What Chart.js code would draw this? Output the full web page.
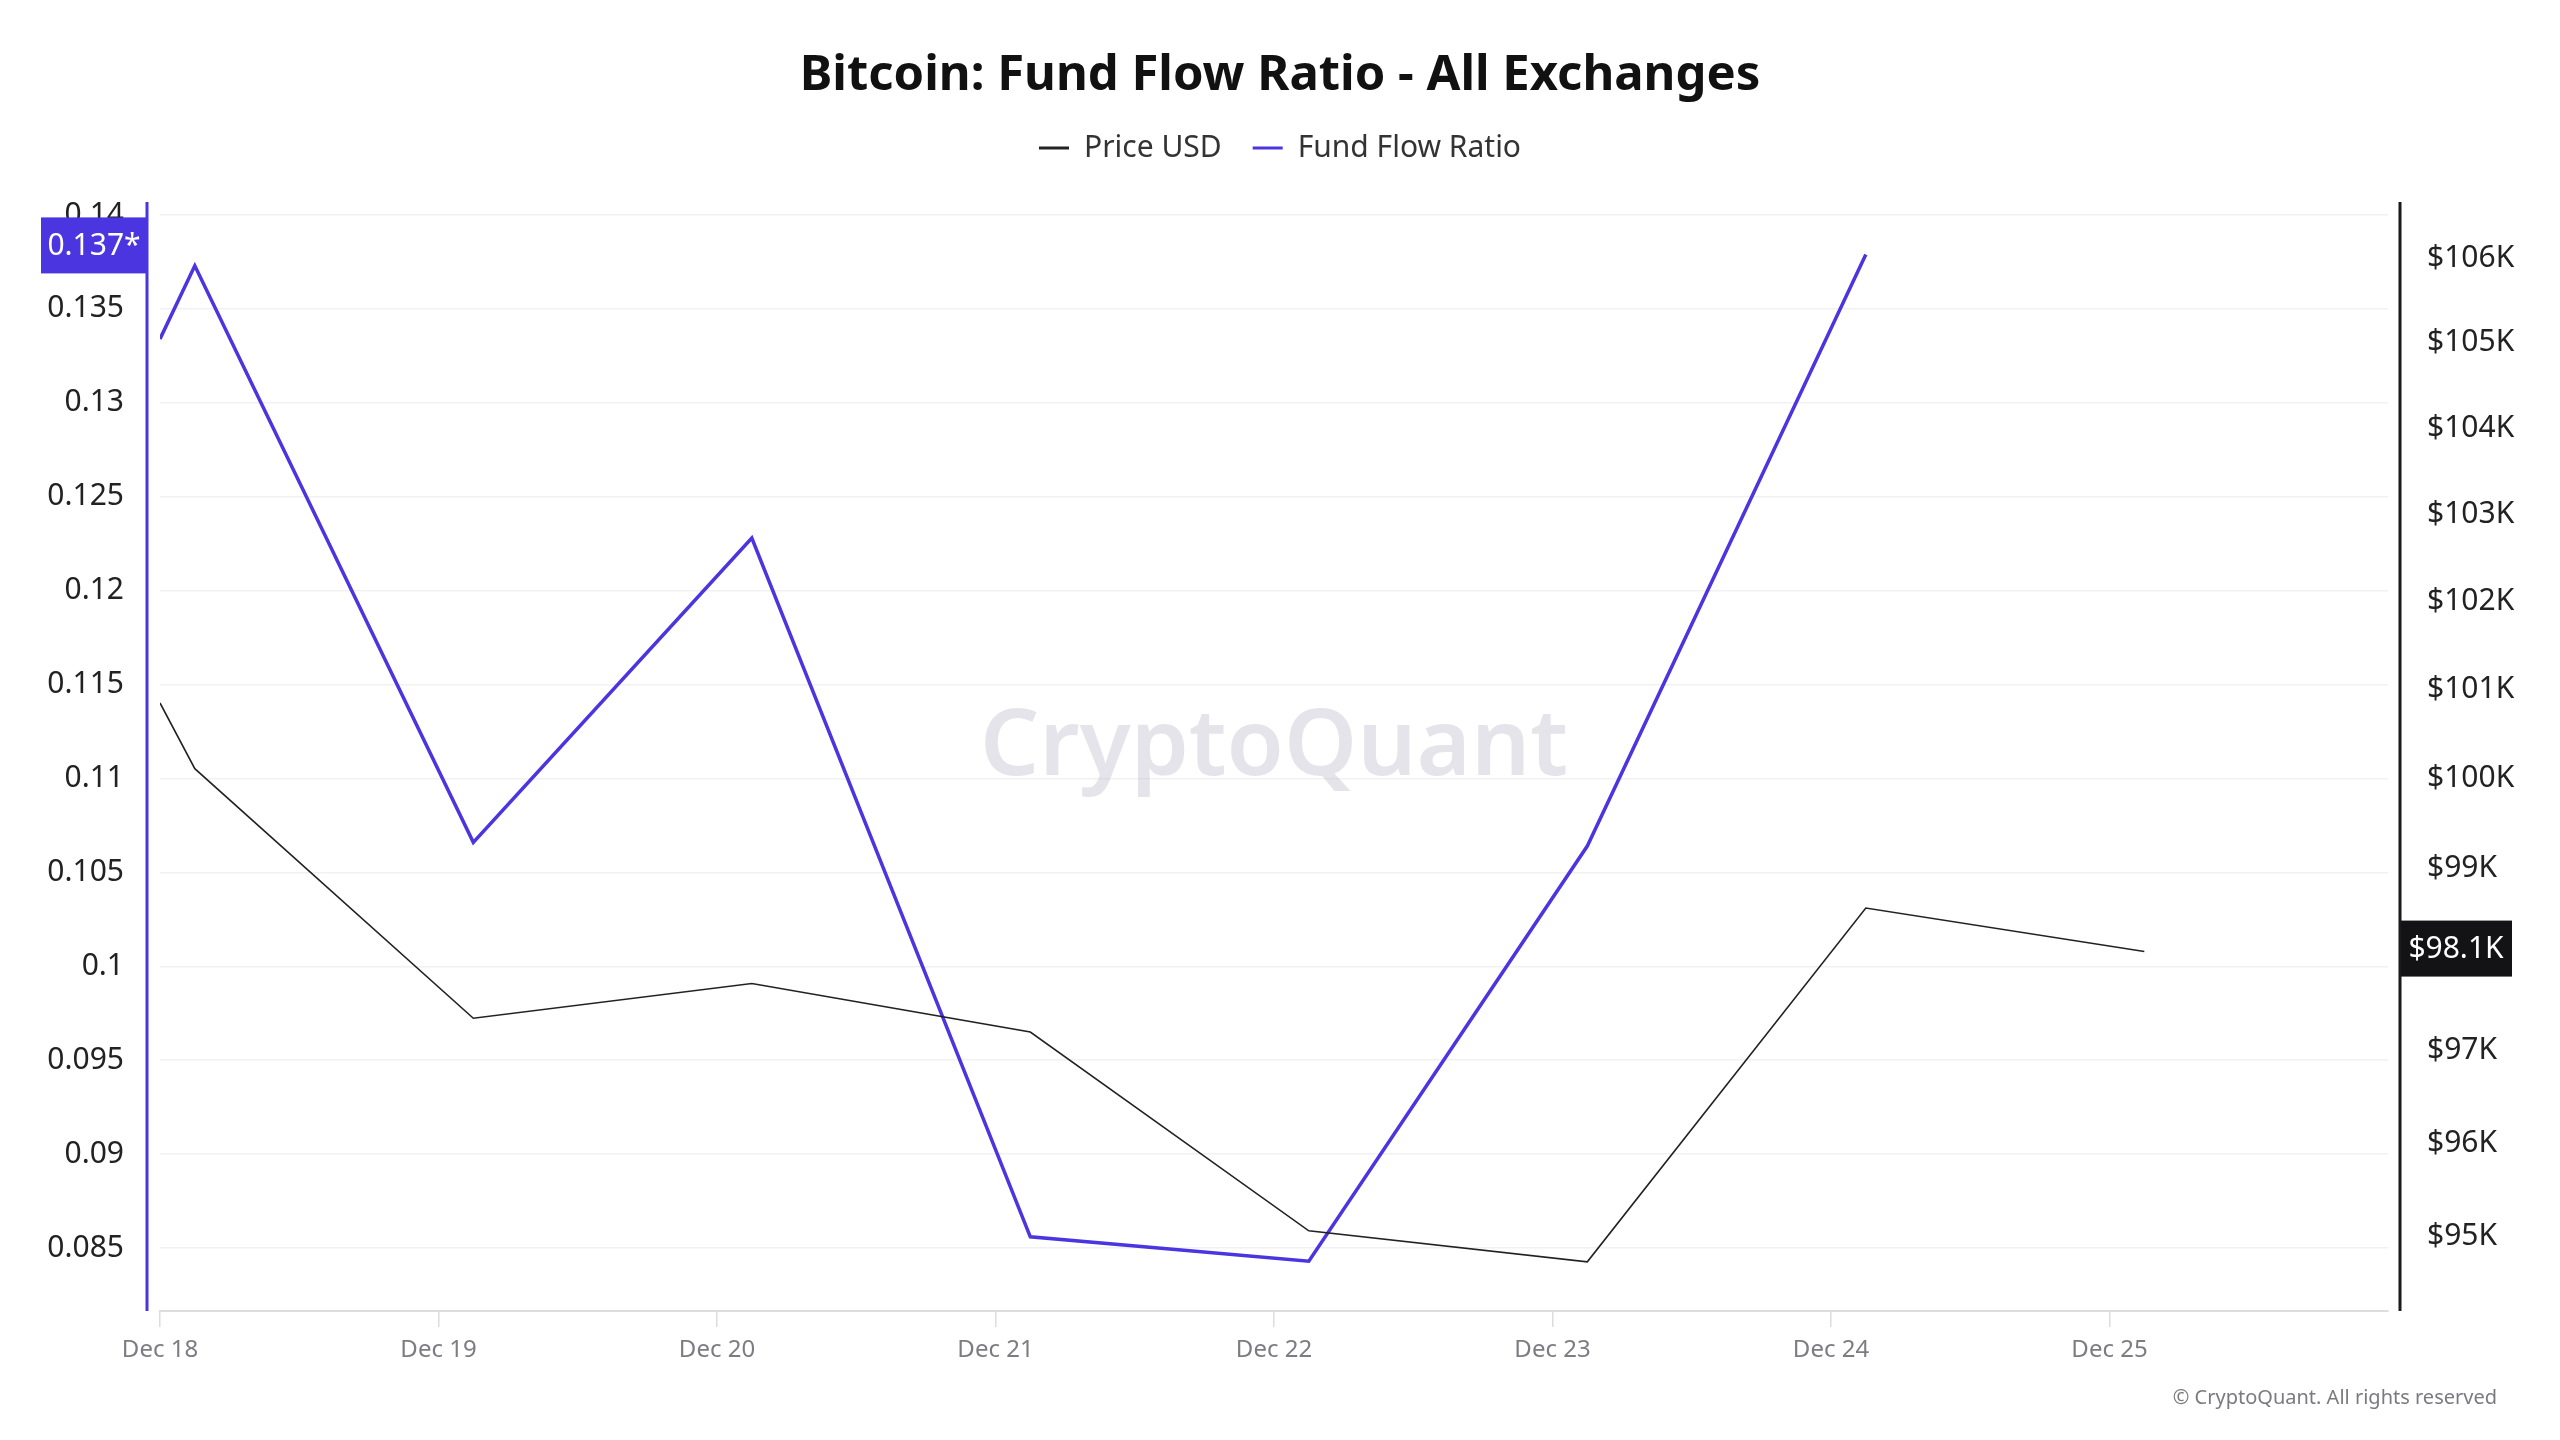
<!DOCTYPE html>
<html>
<head>
<meta charset="utf-8">
<title>Bitcoin: Fund Flow Ratio - All Exchanges</title>
<script src="https://cdn.jsdelivr.net/npm/chart.js@4.4.1/dist/chart.umd.min.js"></script>
<style>
  html, body { margin: 0; padding: 0; background: #fff; }
  #wrap { width: 2560px; height: 1440px; }
</style>
</head>
<body>
<div id="wrap"><canvas id="chart" width="2560" height="1440"></canvas></div>
<script>
// Data (x = hours since Dec 18 00:00)
const hours = [0, 3, 27, 51, 75, 99, 123, 147, 171];
const priceUsd = [100850, 100110, 97350, 97730, 97200, 95060, 94730, 98560, 98080];
const fundFlowRatio = [0.1334, 0.1373, 0.1066, 0.1228, 0.0856, 0.0843, 0.1064, 0.1379];

// Axis ticks
const dayTicks = [0, 24, 48, 72, 96, 120, 144, 168];
const dayLabels = ['Dec 18', 'Dec 19', 'Dec 20', 'Dec 21', 'Dec 22', 'Dec 23', 'Dec 24', 'Dec 25'];
const ratioTicks = [0.085, 0.09, 0.095, 0.1, 0.105, 0.11, 0.115, 0.12, 0.125, 0.13, 0.135, 0.14];
const priceTicks = [95000, 96000, 97000, 98000, 99000, 100000, 101000, 102000, 103000, 104000, 105000, 106000];

const PURPLE = '#4a35e1';
const FONT = '"Noto Sans", "Open Sans", sans-serif';

const toPoints = (xs, ys) => ys.map((y, i) => ({ x: xs[i], y }));

// empty box under the legend, pushes the plot area down
const spacer = {
  id: 'spacer',
  beforeInit(chart) {
    Chart.layouts.addBox(chart, {
      position: 'top',
      weight: 1,
      fullSize: true,
      options: {},
      isHorizontal: () => true,
      update(maxWidth) { this.width = maxWidth; this.height = 29; },
      draw() {}
    });
  }
};

// Extra drawing: watermark, offset axis lines, last-value tags, copyright
const extras = {
  id: 'extras',
  beforeDatasetsDraw(chart) {
    const { ctx, chartArea: a } = chart;
    ctx.save();
    ctx.font = '600 93px ' + FONT;
    ctx.fillStyle = 'rgba(190, 188, 202, 0.4)';
    ctx.textAlign = 'center';
    ctx.textBaseline = 'middle';
    ctx.fillText('CryptoQuant', (a.left + a.right) / 2, (a.top + a.bottom) / 2 - 8);
    ctx.restore();
  },
  afterDraw(chart) {
    const { ctx, chartArea: a, scales } = chart;
    ctx.save();

    // axis lines
    ctx.lineWidth = 3;
    ctx.strokeStyle = PURPLE;
    ctx.beginPath();
    ctx.moveTo(a.left - 13, a.top);
    ctx.lineTo(a.left - 13, a.bottom);
    ctx.stroke();
    ctx.strokeStyle = '#1a1a1a';
    ctx.beginPath();
    ctx.moveTo(a.right + 12, a.top);
    ctx.lineTo(a.right + 12, a.bottom);
    ctx.stroke();

    // last value tags
    ctx.font = '30px ' + FONT;
    ctx.textBaseline = 'middle';
    ctx.textAlign = 'center';

    const lastRatio = fundFlowRatio[fundFlowRatio.length - 1];
    const yl = scales.yRatio.getPixelForValue(lastRatio) - 9;
    ctx.fillStyle = PURPLE;
    ctx.fillRect(a.left - 119, yl - 28, 106, 56);
    ctx.fillStyle = '#fff';
    ctx.fillText((Math.floor(lastRatio * 1000) / 1000) + '*', a.left - 66, yl + 1);

    const lastPrice = priceUsd[priceUsd.length - 1];
    const yr = scales.yPrice.getPixelForValue(lastPrice) - 3;
    ctx.fillStyle = '#131316';
    ctx.fillRect(a.right + 13, yr - 28, 111, 56);
    ctx.fillStyle = '#fff';
    ctx.fillText('$' + (lastPrice / 1000).toFixed(1) + 'K', a.right + 68, yr + 1);

    // copyright
    ctx.font = '20px ' + FONT;
    ctx.fillStyle = '#7a7a80';
    ctx.textAlign = 'right';
    ctx.fillText('© CryptoQuant. All rights reserved', 2497, 1398);
    ctx.restore();
  }
};

new Chart(document.getElementById('chart'), {
  type: 'line',
  data: {
    datasets: [
      {
        label: 'Price USD',
        data: toPoints(hours, priceUsd),
        yAxisID: 'yPrice',
        borderColor: '#222',
        backgroundColor: '#222',
        borderWidth: 1.6,
        pointRadius: 0,
        tension: 0
      },
      {
        label: 'Fund Flow Ratio',
        data: toPoints(hours, fundFlowRatio),
        yAxisID: 'yRatio',
        borderColor: PURPLE,
        backgroundColor: PURPLE,
        borderWidth: 3.5,
        pointRadius: 0,
        tension: 0
      }
    ]
  },
  options: {
    responsive: false,
    animation: false,
    events: [],
    layout: { padding: 0 },
    plugins: {
      title: {
        display: true,
        text: 'Bitcoin: Fund Flow Ratio - All Exchanges',
        color: '#111',
        font: { family: FONT, size: 49, weight: 'bold', lineHeight: 1.0 },
        padding: { top: 52, bottom: 1 }
      },
      legend: {
        display: true,
        labels: {
          color: '#333',
          font: { family: FONT, size: 30 },
          boxWidth: 30,
          boxHeight: 3,
          padding: 31,
          generateLabels: chart => chart.data.datasets.map((ds, i) => ({
            text: ds.label,
            fillStyle: ds.borderColor,
            strokeStyle: ds.borderColor,
            lineWidth: 0,
            fontColor: '#333',
            datasetIndex: i
          }))
        }
      },
      tooltip: { enabled: false }
    },
    scales: {
      x: {
        type: 'linear',
        min: 0,
        max: 192,
        afterBuildTicks: s => { s.ticks = dayTicks.map(v => ({ value: v })); },
        afterFit: s => { s.height = 129; },
        grid: { drawOnChartArea: false, drawTicks: true, tickLength: 16, color: '#dcdce2', lineWidth: 1.5 },
        border: { display: true, color: '#dcdce2', width: 2 },
        ticks: {
          color: '#7c7c84',
          font: { family: FONT, size: 24 },
          padding: 9,
          maxRotation: 0,
          callback: v => dayLabels[dayTicks.indexOf(v)]
        }
      },
      yRatio: {
        type: 'linear',
        position: 'left',
        min: 0.08165,
        max: 0.14069,
        afterBuildTicks: s => { s.ticks = ratioTicks.map(v => ({ value: v })); },
        afterFit: s => { s.width = 160; },
        grid: { color: '#f1f1f3', lineWidth: 1.5, drawTicks: false },
        border: { display: false },
        ticks: {
          color: '#222',
          font: { family: FONT, size: 30 },
          padding: 36,
          callback: v => String(Number(v.toFixed(3)))
        }
      },
      yPrice: {
        type: 'logarithmic',
        position: 'right',
        min: 94210,
        max: 106670,
        afterBuildTicks: s => { s.ticks = priceTicks.map(v => ({ value: v })); },
        afterFit: s => { s.width = 172; },
        grid: { display: false, drawTicks: false },
        border: { display: false },
        ticks: {
          color: '#222',
          font: { family: FONT, size: 30 },
          padding: 39,
          callback: v => '$' + Math.round(v / 1000) + 'K'
        }
      }
    }
  },
  plugins: [spacer, extras]
});
</script>
</body>
</html>
